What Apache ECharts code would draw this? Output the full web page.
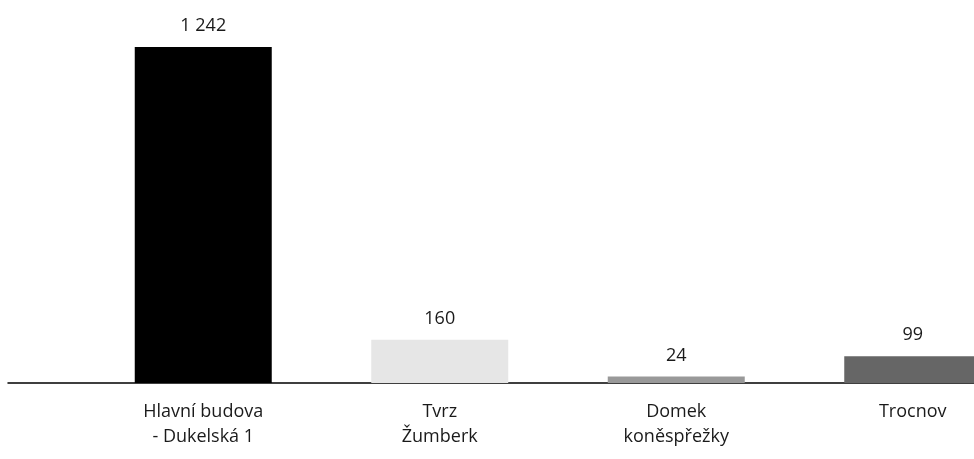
<!DOCTYPE html>
<html>
<head>
<meta charset="utf-8">
<script src="https://cdn.jsdelivr.net/npm/echarts@6/dist/echarts.min.js"></script>
<style>
  html, body { margin: 0; padding: 0; background: #fff; }
  #chart { width: 974px; height: 459px; }
</style>
</head>
<body>
<div id="chart"></div>
<script>
// data
const categories = ['Hlavní budova\n- Dukelská 1', 'Tvrz\nŽumberk', 'Domek\nkoněspřežky', 'Trocnov'];
const values = [1242, 160, 24, 99];
const barColors = ['#000000', '#e6e6e6', '#999999', '#666666'];

const chart = echarts.init(document.getElementById('chart'));

// "1242" -> "1 242"
function fmt(v) {
    return String(v).replace(/\B(?=(\d{3})+(?!\d))/g, ' ');
}

const font = '"Open Sans", sans-serif';

chart.setOption({
    animation: false,
    backgroundColor: '#ffffff',
    grid: [
        // bars, last one runs off the right edge
        { left: 85, width: 946, top: 47, bottom: 76, outerBoundsMode: 'none', containLabel: false },
        // only for the long baseline
        { left: 8, right: 0, top: 47, bottom: 76, outerBoundsMode: 'none' }
    ],
    xAxis: [{
        type: 'category',
        data: categories,
        gridIndex: 0,
        axisLine: { show: false },
        axisTick: { show: false },
        axisLabel: {
            color: '#1a1a1a',
            fontFamily: font,
            fontSize: 18,
            lineHeight: 25,
            margin: 16
        }
    }, {
        type: 'value',
        gridIndex: 1,
        min: 0,
        max: 1,
        axisLine: { show: true, lineStyle: { color: '#000', width: 1.5 } },
        axisTick: { show: false },
        axisLabel: { show: false },
        splitLine: { show: false }
    }],
    yAxis: [{
        type: 'value',
        gridIndex: 0,
        min: 0,
        max: 'dataMax',
        show: false
    }, {
        type: 'value',
        gridIndex: 1,
        show: false
    }],
    series: [{
        type: 'bar',
        xAxisIndex: 0,
        yAxisIndex: 0,
        barWidth: 137,
        data: values.map((v, i) => ({ value: v, itemStyle: { color: barColors[i] } })),
        label: {
            show: true,
            position: 'top',
            distance: 12,
            color: '#1a1a1a',
            fontFamily: font,
            fontSize: 18,
            formatter: p => fmt(p.value)
        }
    }]
});
</script>
</body>
</html>
